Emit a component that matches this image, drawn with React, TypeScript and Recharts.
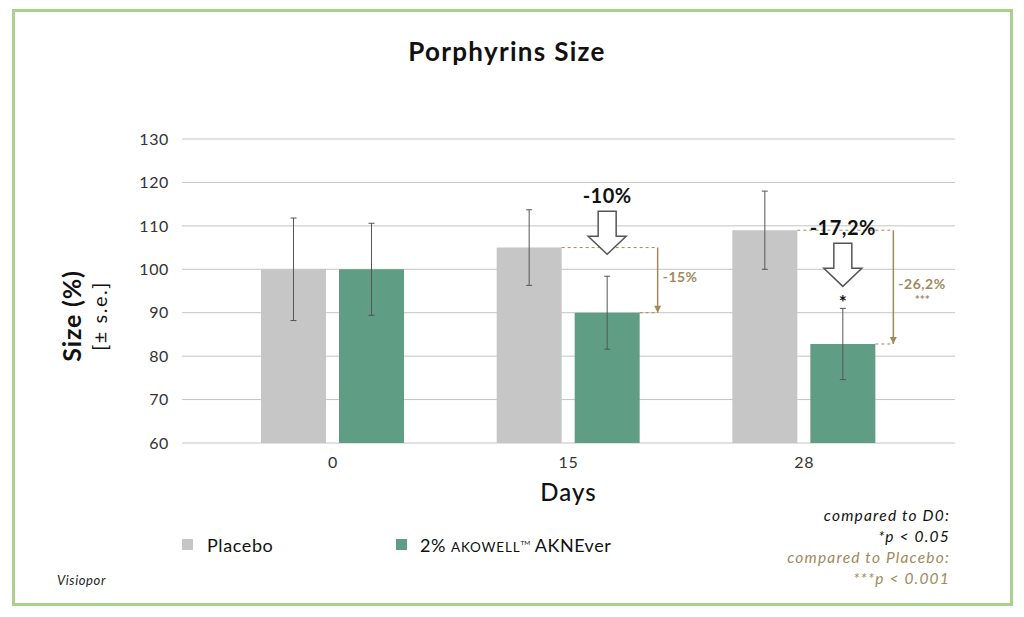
import React from "react";
import {
  BarChart,
  Bar,
  XAxis,
  YAxis,
  CartesianGrid,
  ErrorBar,
  ReferenceLine,
  ReferenceDot,
} from "recharts";

const days = ["0", "15", "28"];
const seriesNames = ["Placebo", "2% AKOWELL™ AKNEver"];
const placebo = [100, 105, 109];
const placeboSe = [11.8, 8.7, 9];
const akne = [100, 90, 82.8];
const akneSe = [10.6, 8.4, 8.2];
const yTicks = [60, 70, 80, 90, 100, 110, 120, 130];

// annotated days (index into days)
const annotated = [1, 2];
const vsD0 = ["-10%", "-17,2%"];
const vsD0Sig = ["", "*"];
const vsPlacebo = ["-15%", "-26,2%"];
const vsPlaceboSig = ["", "***"];

const GREY = "#c6c6c6";
const GREEN = "#5f9e85";
const TAN = "#a08a5c";
const FONT = "Lato, 'Noto Sans', sans-serif";

// layout
const W = 1024;
const H = 617;
const PLOT_L = 182;
const PLOT_R = 955;
const PLOT_T = 139;
const PLOT_B = 443;
const Y_AXIS_W = 60;
const X_AXIS_H = 30;
const PAD = 33;
const BAR = 65;
const GAP = 13;
const BAND = (PLOT_R - PLOT_L - 2 * PAD) / days.length;
const BAR_OFFSET = Math.floor((BAND - (2 * BAR + GAP)) / 2);
// offsets inside a category, in category units (for the hidden numeric axis)
const PLACEBO_RIGHT = (-BAND / 2 + BAR_OFFSET + BAR) / BAND;
const GREEN_CENTER = (-BAND / 2 + BAR_OFFSET + BAR + GAP + BAR / 2) / BAND;
const GREEN_RIGHT = (-BAND / 2 + BAR_OFFSET + 2 * BAR + GAP) / BAND;
const BRACKET = GREEN_RIGHT + 18 / BAND;

const data = days.map((d, i) => ({
  day: d,
  idx: i,
  placebo: placebo[i],
  placeboSe: placeboSe[i],
  akne: akne[i],
  akneSe: akneSe[i],
}));

function HollowArrow(props: any, label: string, star: string) {
  const { cx, cy } = props;
  const tip = cy - 22;
  const top = tip - 43;
  const neck = top + 25;
  const pts = [
    [cx - 9, top],
    [cx + 9, top],
    [cx + 9, neck],
    [cx + 19, neck],
    [cx, tip],
    [cx - 19, neck],
    [cx - 9, neck],
  ]
    .map((p) => p.join(","))
    .join(" ");
  return (
    <g>
      <polygon points={pts} fill="#fff" stroke="#555" strokeWidth={1.5} />
      <text
        x={cx}
        y={top - 8}
        textAnchor="middle"
        fontFamily={FONT}
        fontWeight={700}
        fontSize={20}
        letterSpacing={0.5}
        fill="#111"
      >
        {label}
      </text>
      {star && (
        <text x={cx} y={cy + 1} textAnchor="middle" fontFamily={FONT} fontWeight={700} fontSize={19} fill="#111">
          {star}
        </text>
      )}
    </g>
  );
}

function ArrowHead(props: any) {
  const { cx, cy } = props;
  return <polygon points={`${cx - 3.5},${cy - 7} ${cx + 3.5},${cy - 7} ${cx},${cy}`} fill={TAN} />;
}

function TanLabel(props: any, label: string, sig: string) {
  const { cx, cy } = props;
  return (
    <g fontFamily={FONT} fontWeight={700} fill={TAN} fontSize={14}>
      <text x={cx + 5} y={cy + 2} letterSpacing={0.5}>
        {label}
      </text>
      {sig && (
        <text x={cx + 5 + 24} y={cy + 17} textAnchor="middle" fontSize={12}>
          {sig}
        </text>
      )}
    </g>
  );
}

export default function App() {
  return (
    <div style={{ position: "absolute", left: 0, top: 0, width: W, height: H, background: "#fff", fontFamily: FONT }}>
      <div
        style={{
          position: "absolute",
          left: 12,
          top: 9,
          width: 1013 - 12,
          height: 606 - 9,
          border: "3px solid #a9d18e",
          boxSizing: "border-box",
        }}
      />
      <div
        style={{
          position: "absolute",
          left: 307,
          width: 400,
          top: 35,
          textAlign: "center",
          fontSize: 26,
          letterSpacing: 1.3,
          fontWeight: 700,
          color: "#111",
        }}
      >
        Porphyrins Size
      </div>

      <BarChart
        width={W}
        height={H}
        data={data}
        barSize={BAR}
        barGap={GAP}
        margin={{ top: PLOT_T, right: W - PLOT_R, left: PLOT_L - Y_AXIS_W, bottom: H - PLOT_B - X_AXIS_H }}
        style={{ position: "absolute", left: 0, top: 0 }}
      >
        <CartesianGrid xAxisId="cat" vertical={false} stroke="#c4c4c4" strokeWidth={1} />
        <XAxis
          xAxisId="cat"
          dataKey="day"
          height={X_AXIS_H}
          padding={{ left: PAD, right: PAD }}
          axisLine={false}
          tickLine={false}
          tickSize={0}
          tickMargin={14}
          tick={{ fontSize: 16, fill: "#333", fontFamily: FONT, letterSpacing: 0.6 }}
        />
        <XAxis
          xAxisId="pos"
          dataKey="idx"
          type="number"
          domain={[0, days.length - 1]}
          allowDataOverflow
          padding={{ left: PAD + BAND / 2, right: PAD + BAND / 2 }}
          hide
        />
        <YAxis
          domain={[60, 130]}
          ticks={yTicks}
          interval={0}
          width={Y_AXIS_W}
          axisLine={false}
          tickLine={false}
          tickSize={0}
          tickMargin={13}
          tick={{ fontSize: 16, fill: "#333", fontFamily: FONT, letterSpacing: 0.6 }}
        />
        <Bar xAxisId="cat" dataKey="placebo" fill={GREY} isAnimationActive={false}>
          <ErrorBar dataKey="placeboSe" width={3} stroke="#555" strokeWidth={1} />
        </Bar>
        <Bar xAxisId="cat" dataKey="akne" fill={GREEN} isAnimationActive={false}>
          <ErrorBar dataKey="akneSe" width={3} stroke="#555" strokeWidth={1} />
        </Bar>

        {annotated.map((i, k) => (
          <React.Fragment key={i}>
            <ReferenceLine
              xAxisId="pos"
              ifOverflow="visible"
              segment={[
                { x: i + PLACEBO_RIGHT, y: placebo[i] },
                { x: i + BRACKET, y: placebo[i] },
              ]}
              stroke={TAN}
              strokeDasharray="3 3"
            />
            <ReferenceLine
              xAxisId="pos"
              ifOverflow="visible"
              segment={[
                { x: i + GREEN_RIGHT, y: akne[i] },
                { x: i + BRACKET, y: akne[i] },
              ]}
              stroke={TAN}
              strokeDasharray="3 3"
            />
            <ReferenceLine
              xAxisId="pos"
              ifOverflow="visible"
              segment={[
                { x: i + BRACKET, y: placebo[i] },
                { x: i + BRACKET, y: akne[i] },
              ]}
              stroke={TAN}
              strokeWidth={1.5}
            />
            <ReferenceDot
              xAxisId="pos"
              ifOverflow="visible"
              x={i + BRACKET}
              y={akne[i]}
              r={0}
              shape={ArrowHead}
            />
            <ReferenceDot
              xAxisId="pos"
              ifOverflow="visible"
              x={i + BRACKET}
              y={(placebo[i] + akne[i]) / 2}
              r={0}
              shape={(p: any) => TanLabel(p, vsPlacebo[k], vsPlaceboSig[k])}
            />
            <ReferenceDot
              xAxisId="pos"
              ifOverflow="visible"
              x={i + GREEN_CENTER}
              y={akne[i] + akneSe[i]}
              r={0}
              shape={(p: any) => HollowArrow(p, vsD0[k], vsD0Sig[k])}
            />
          </React.Fragment>
        ))}
      </BarChart>

      {/* axis titles */}
      <div
        style={{
          position: "absolute",
          left: 71,
          top: 316,
          transform: "translate(-50%, -50%) rotate(-90deg)",
          whiteSpace: "nowrap",
          fontSize: 25,
          letterSpacing: 0.8,
          fontWeight: 700,
          color: "#111",
        }}
      >
        Size (%)
      </div>
      <div
        style={{
          position: "absolute",
          left: 99,
          top: 316,
          transform: "translate(-50%, -50%) rotate(-90deg)",
          whiteSpace: "nowrap",
          fontSize: 20,
          letterSpacing: 1.5,
          color: "#111",
        }}
      >
        [± s.e.]
      </div>
      <div
        style={{
          position: "absolute",
          left: PLOT_L,
          width: PLOT_R - PLOT_L,
          top: 477,
          textAlign: "center",
          fontSize: 24,
          letterSpacing: 1,
          fontWeight: 500,
          color: "#111",
        }}
      >
        Days
      </div>

      {/* legend */}
      <div style={{ position: "absolute", left: 182, top: 539, width: 11, height: 11, background: GREY }} />
      <div style={{ position: "absolute", left: 207, top: 534, fontSize: 18, letterSpacing: 0.6, color: "#111" }}>
        {seriesNames[0]}
      </div>
      <div style={{ position: "absolute", left: 396, top: 539, width: 11, height: 11, background: GREEN }} />
      <div
        style={{
          position: "absolute",
          left: 420,
          top: 534,
          fontSize: 18,
          letterSpacing: 0.5,
          color: "#111",
          whiteSpace: "nowrap",
        }}
      >
        2% <span style={{ fontSize: 13.5, letterSpacing: 0.8 }}>AKOWELL</span>
        <span style={{ fontSize: 6.5, verticalAlign: 7, letterSpacing: 0 }}>TM</span> AKNEver
      </div>

      {/* significance notes */}
      <div
        style={{
          position: "absolute",
          right: W - 950,
          top: 505,
          textAlign: "right",
          fontStyle: "italic",
          fontSize: 15.5,
          letterSpacing: 1.2,
          lineHeight: "21px",
        }}
      >
        <div style={{ color: "#111" }}>compared to D0:</div>
        <div style={{ color: "#111" }}>*p &lt; 0.05</div>
        <div style={{ color: TAN }}>compared to Placebo:</div>
        <div style={{ color: TAN }}>***p &lt; 0.001</div>
      </div>

      <div
        style={{
          position: "absolute",
          left: 57,
          top: 572,
          fontSize: 13,
          letterSpacing: 0.6,
          fontStyle: "italic",
          color: "#222",
        }}
      >
        Visiopor
      </div>
    </div>
  );
}
